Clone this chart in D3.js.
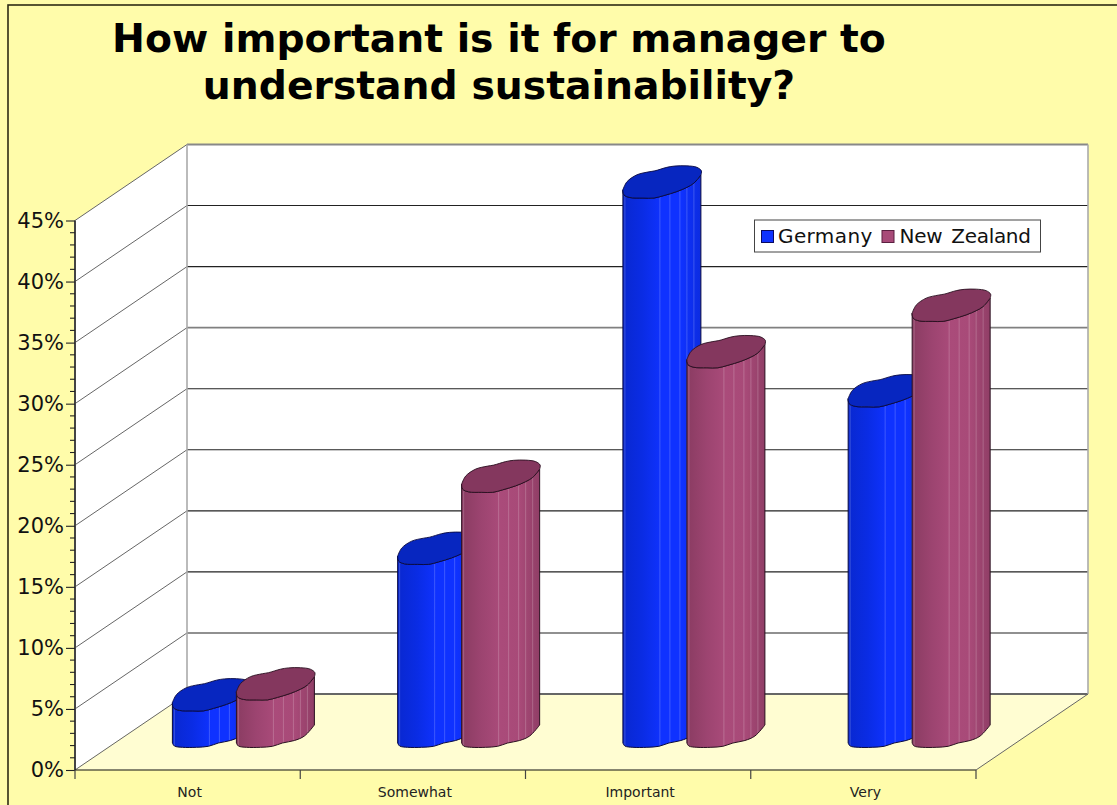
<!DOCTYPE html>
<html><head><meta charset="utf-8">
<script src="https://cdnjs.cloudflare.com/ajax/libs/d3/7.8.5/d3.min.js"></script>
<style>html,body{margin:0;padding:0;background:#fffcaa;overflow:hidden}svg{display:block}text{font-family:"DejaVu Sans",sans-serif;fill:#111}</style>
</head><body><svg id="c" width="1117" height="805"></svg>
<script>
const categories = ["Not","Somewhat","Important","Very"];
const seriesNames = ["Germany","New Zealand"];
const germany = [3.3,15.3,45.3,28.2];
const newZealand = [4.2,21.2,31.4,35.2];
const titleLines = ["How important is it for manager to","understand sustainability?"];
const yTicks = [0,5,10,15,20,25,30,35,40,45];

const svg = d3.select("#c");
const W=1117,H=805;
const x = d3.scaleBand().domain(categories).range([75,976]);
const y = d3.scaleLinear().domain([0,45]).range([770,220.5]);
const dep = {x:112,y:-76};
const series = d3.scaleBand().domain(seriesNames).range([97.4,225.4]);
const colors = {"Germany":{cap:"#0726c0",stops:["#0928d0","#0a2ce4","#0f32ff","#0f32ff","#0c2ce0"],edge:"#0a0a40"},
                "New Zealand":{cap:"#84375e",stops:["#8a3c62","#9c4470","#aa4b7a","#a84a78","#903e66"],edge:"#2a1020"}};
const values = {"Germany":germany,"New Zealand":newZealand};

// frame
svg.append("rect").attr("x",8).attr("y",5).attr("width",W+20).attr("height",H+20).attr("fill","#fffcaa").attr("stroke","#2e2b14").attr("stroke-width",1.6);

// title
titleLines.forEach((t,i)=>svg.append("text").attr("x",499).attr("y",52+i*47).attr("text-anchor","middle")
  .attr("font-size",39.3).attr("font-weight","bold").style("fill","#000").text(t));

const y0=y(0), yT=y(45), xL=x.range()[0], xR=x.range()[1];
// walls
svg.append("path").attr("d",d3.line()([[xL,y0],[xL,yT],[xL+dep.x,yT+dep.y],[xL+dep.x,y0+dep.y]])+"Z").attr("fill","#fff");
svg.append("path").attr("d",d3.line()([[xL+dep.x,yT+dep.y],[xR+dep.x,yT+dep.y],[xR+dep.x,y0+dep.y],[xL+dep.x,y0+dep.y]])+"Z").attr("fill","#fff");
svg.append("path").attr("d",d3.line()([[xL,y0],[xR,y0],[xR+dep.x,y0+dep.y],[xL+dep.x,y0+dep.y]])+"Z").attr("fill","#fffdd2");

// grid
yTicks.forEach(v=>{
  const yy=y(v);
  svg.append("line").attr("x1",xL).attr("y1",yy).attr("x2",xL+dep.x).attr("y2",yy+dep.y).attr("stroke","#666").attr("stroke-width",1);
  const grey = v===0||v===45||v===30;
  if(v===0||v===45) return;
  svg.append("line").attr("x1",xL+dep.x).attr("y1",yy+dep.y).attr("x2",xR+dep.x).attr("y2",yy+dep.y)
    .attr("stroke",grey?"#808080":"#222").attr("stroke-width",grey?1.6:1.1);
});
svg.append("line").attr("x1",xL+dep.x).attr("y1",yT+dep.y).attr("x2",xR+dep.x).attr("y2",yT+dep.y).attr("stroke","#888").attr("stroke-width",2);
svg.append("line").attr("x1",xL+dep.x).attr("y1",y0+dep.y).attr("x2",xR+dep.x).attr("y2",y0+dep.y).attr("stroke","#666").attr("stroke-width",1.8);
[xL+dep.x,xR+dep.x].forEach(xx=>svg.append("line").attr("x1",xx).attr("y1",yT+dep.y).attr("x2",xx).attr("y2",y0+dep.y).attr("stroke","#aaa").attr("stroke-width",1.6));
svg.append("line").attr("x1",xR).attr("y1",y0).attr("x2",xR+dep.x).attr("y2",y0+dep.y).attr("stroke","#666").attr("stroke-width",1);

// gradients
const defs=svg.append("defs");
seriesNames.forEach((s,i)=>{
  const g=defs.append("linearGradient").attr("id","g"+i);
  colors[s].stops.forEach((c,k,a)=>g.append("stop").attr("offset",k/(a.length-1)).attr("stop-color",c));
});

// bars: outline profile relative to the bar's left edge
const capFront=[[0,0],[1,5],[7,7.7],[20,8.2],[31,8.2],[41,5.7],[54,1.7],[64,-2.5],[71,-6.7],[78,-15]];
const capBack=[[78,-15],[78.5,-19],[74,-22.5],[64,-24],[52,-23.8],[44,-22.5],[32,-19],[26,-18],[14,-15],[4,-8],[0,0]];
const baseEdge=[[0,0],[2,3],[10,4.3],[24,4.3],[36,3.3],[46,0],[58,-2.5],[68,-7],[78,-18]];
const smooth=d3.line().curve(d3.curveCatmullRom.alpha(0.5));
const stripes=[2,37,47,57,64,71];
const baseLift=27;
seriesNames.forEach((s,si)=>{
  categories.forEach((c,ci)=>{
    const left=x(c)+series(s), base=y0-baseLift, h=y0-y(values[s][ci]), top=base-h;
    const front=capFront.map(p=>[left+p[0],top+p[1]]);
    const back=capBack.map(p=>[left+p[0],top+p[1]]);
    const bot=baseEdge.map(p=>[left+p[0],base+p[1]]);
    const body=smooth(front)+"L"+smooth(bot.slice().reverse()).slice(1)+"Z";
    const id="clip"+si+"_"+ci;
    defs.append("clipPath").attr("id",id).append("path").attr("d",body);
    svg.append("path").attr("d",body).attr("fill","url(#g"+si+")");
    const sg=svg.append("g").attr("clip-path","url(#"+id+")");
    stripes.forEach(d=>sg.append("line").attr("x1",left+d).attr("x2",left+d).attr("y1",top-30).attr("y2",base+8)
      .attr("stroke","#fff").attr("stroke-opacity",0.2).attr("stroke-width",1));
    svg.append("path").attr("d",body).attr("fill","none").attr("stroke",colors[s].edge).attr("stroke-width",1);
    svg.append("path").attr("d",smooth(front)+"L"+smooth(back).slice(1)+"Z").attr("fill",colors[s].cap).attr("stroke",colors[s].edge).attr("stroke-width",0.9);
  });
});

// axes
const ax=d3.axisLeft(y).tickValues(yTicks).tickSize(9).tickPadding(2).tickFormat(d=>d+"%");
const gy=svg.append("g").attr("transform",`translate(${xL},0)`).call(ax);
gy.select(".domain").attr("stroke","#444").attr("stroke-width",2).attr("d",`M0,${yT}V${y0}`);
gy.selectAll("line").attr("stroke","#222").attr("stroke-width",1.1);
gy.selectAll("text").attr("font-size",21).attr("font-family",null).style("fill","#111");
d3.range(0,45).filter(v=>v%5).forEach(v=>svg.append("line").attr("x1",xL-5).attr("x2",xL).attr("y1",y(v)).attr("y2",y(v)).attr("stroke","#222").attr("stroke-width",1.1));

svg.append("line").attr("x1",xL).attr("x2",xR).attr("y1",y0).attr("y2",y0).attr("stroke","#111").attr("stroke-width",1.2);
[...categories.map(c=>x(c)),xR].forEach(t=>svg.append("line").attr("x1",t).attr("x2",t).attr("y1",y0).attr("y2",y0+9).attr("stroke","#444").attr("stroke-width",1.2));
categories.forEach(c=>svg.append("text").attr("x",x(c)+x.bandwidth()/2+2).attr("y",797).attr("text-anchor","middle").attr("font-size",14).style("fill","#222").text(c));

// legend
svg.append("rect").attr("x",754.5).attr("y",220).attr("width",286).attr("height",32).attr("fill","#fff").attr("stroke","#444").attr("stroke-width",1);
const lx=[761.5,882],tx=[778,899.5],ls=[0.4,-0.3];
seriesNames.forEach((s,i)=>{
  svg.append("rect").attr("x",lx[i]).attr("y",230.5).attr("width",12).attr("height",12).attr("fill",i?"#a84a78":"#0f32ff").attr("stroke",i?"#5a1f40":"#0a0a60").attr("stroke-width",1);
  svg.append("text").attr("x",tx[i]).attr("y",243).attr("font-size",20).style("letter-spacing",ls[i]+"px").style("word-spacing","3px").text(s);
});
</script></body></html>
